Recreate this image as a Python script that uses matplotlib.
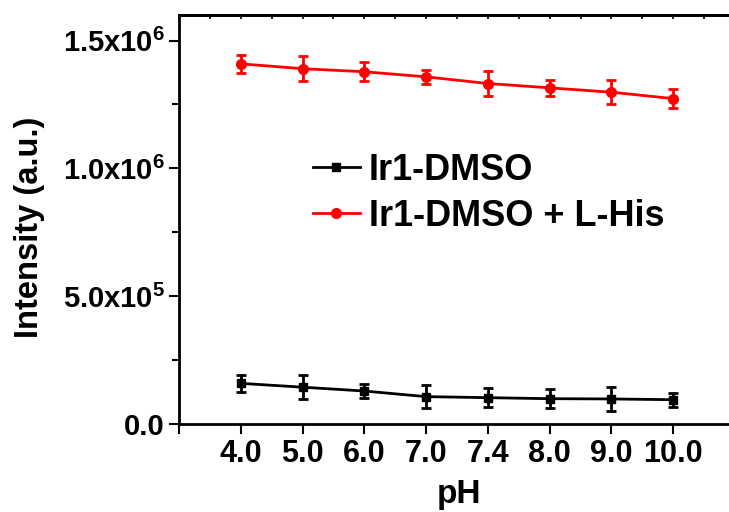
import numpy as np
import matplotlib
matplotlib.use("Agg")
import matplotlib.pyplot as plt

# pH values (shown as category labels)
ph_labels = ["4.0", "5.0", "6.0", "7.0", "7.4", "8.0", "9.0", "10.0"]

# Ir1-DMSO alone
ir1 = [0.159e6, 0.144e6, 0.129e6, 0.107e6, 0.103e6, 0.099e6, 0.098e6, 0.095e6]
ir1_err = [34e3, 48e3, 29e3, 46e3, 37e3, 36e3, 46e3, 27e3]

# Ir1-DMSO with L-His
ir1_his = [1.409e6, 1.390e6, 1.378e6, 1.358e6, 1.332e6, 1.315e6, 1.298e6, 1.273e6]
ir1_his_err = [36e3, 48e3, 38e3, 27e3, 50e3, 30e3, 47e3, 37e3]

y_ticks = [0, 5e5, 1e6, 1.5e6]
y_tick_labels = ["0.0", "5.0x10$^{5}$", "1.0x10$^{6}$", "1.5x10$^{6}$"]

plt.rcParams["font.family"] = ["Liberation Sans", "DejaVu Sans"]
plt.rcParams["font.weight"] = "bold"
plt.rcParams["mathtext.fontset"] = "custom"
plt.rcParams["mathtext.rm"] = "Liberation Sans:bold"
plt.rcParams["mathtext.default"] = "rm"

fig = plt.figure(figsize=(7.29, 5.12), dpi=100)
ax = fig.add_axes([179 / 729, 88 / 512, 556 / 729, 409 / 512])

x = np.arange(1, len(ph_labels) + 1)

eb1 = ax.errorbar(x, ir1, yerr=ir1_err, color="black", marker="s", markersize=6,
                  linewidth=2, elinewidth=2, capsize=3.5, capthick=2)
eb2 = ax.errorbar(x, ir1_his, yerr=ir1_his_err, color="red", marker="o", markersize=7,
                  linewidth=2, elinewidth=2, capsize=3.5, capthick=2)

ax.set_xlim(0, 9)
ax.set_ylim(0, 1.6e6)

ax.set_xticks(np.arange(0, len(ph_labels) + 1))
ax.set_xticklabels([""] + ph_labels, fontsize=22, fontweight="bold")
ax.set_yticks(y_ticks)
ax.set_yticklabels(y_tick_labels, fontsize=21, fontweight="bold")
ax.set_yticks(np.arange(2.5e5, 1.6e6, 5e5), minor=True)

ax.tick_params(axis="x", which="major", direction="out", length=7, width=1.5, pad=4)
ax.tick_params(axis="y", which="major", direction="out", length=7, width=1.5, pad=3)
ax.tick_params(axis="y", which="minor", direction="out", length=5, width=1.5)

for sp in ax.spines.values():
    sp.set_linewidth(2)

# top axis with finer inward ticks
top = ax.secondary_xaxis("top")
top.set_xticks(np.arange(0, 9.01, 0.5))
top.set_xticklabels([])
top.tick_params(direction="in", length=3, width=1.2)
top.spines["top"].set_linewidth(2)

fig.text(30 / 729, 1 - 227 / 512, "Intensity (a.u.)", rotation=90,
         ha="center", va="center", fontsize=23.5, fontweight="bold")
fig.text(459 / 729, 1 - 494 / 512, "pH", ha="center", va="center",
         fontsize=24, fontweight="bold")

# legend shows only line + marker, no error bars
ax.legend([eb1.lines[0], eb2.lines[0]], ["Ir1-DMSO", "Ir1-DMSO + L-His"],
          loc="center left", bbox_to_anchor=((313 - 179) / 556, (424 - 193.5) / 409),
          frameon=False, fontsize=26, handlelength=1.3, handletextpad=0.24,
          labelspacing=0.3, borderpad=0, borderaxespad=0)

fig.savefig("out.png", dpi=100)
